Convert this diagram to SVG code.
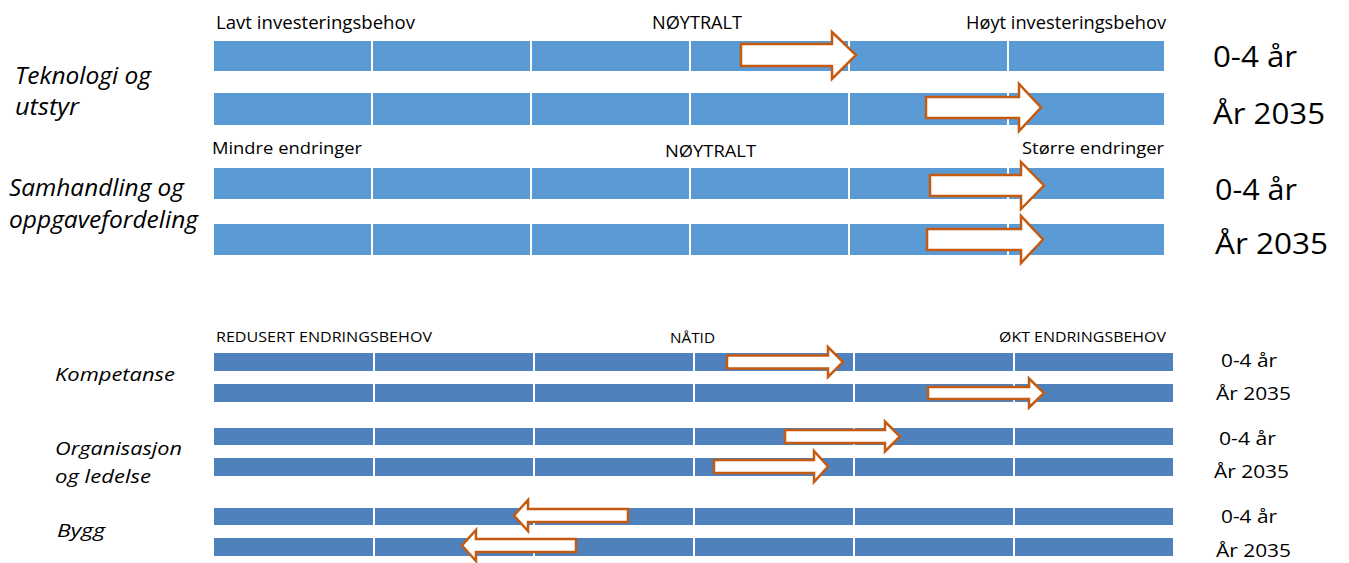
<svg xmlns="http://www.w3.org/2000/svg" width="1349" height="563" viewBox="0 0 1349 563">
<defs>
<style>
.bt{fill:#5B9BD5}
.bb{fill:#4F81BD}
.arr{fill:#FFFFFF;stroke:#C55A11;stroke-width:2.5;stroke-linejoin:miter}
text{font-family:"Open Sans","Liberation Sans",sans-serif;fill:#000}
.it{font-style:italic}
.h1{font-size:18px}
.h2{font-size:16px}
.h3{font-size:14px}
.big{font-size:29px}
.cat{font-size:23px}
.cat2{font-size:19px}
.sm{font-size:19px}
</style>
</defs>
<rect width="1349" height="563" fill="#FFFFFF"/>

<g id="section-teknologi">
  <text class="h1" x="216" y="29" textLength="199" lengthAdjust="spacingAndGlyphs">Lavt investeringsbehov</text>
  <text class="h1" x="652" y="29" textLength="90" lengthAdjust="spacingAndGlyphs">NØYTRALT</text>
  <text class="h1" x="966" y="29" textLength="200" lengthAdjust="spacingAndGlyphs">Høyt investeringsbehov</text>
  <text class="cat it" x="15" y="84" textLength="136" lengthAdjust="spacingAndGlyphs">Teknologi og</text>
  <text class="cat it" x="15" y="115" textLength="64" lengthAdjust="spacingAndGlyphs">utstyr</text>
  <g id="bar-tek-1" class="bt">
    <rect x="214" y="41" width="157" height="30"/><rect x="373" y="41" width="157" height="30"/><rect x="532" y="41" width="157" height="30"/><rect x="691" y="41" width="157" height="30"/><rect x="850" y="41" width="157" height="30"/><rect x="1009" y="41" width="155" height="30"/>
  </g>
  <g id="bar-tek-2" class="bt">
    <rect x="214" y="93" width="157" height="32"/><rect x="373" y="93" width="157" height="32"/><rect x="532" y="93" width="157" height="32"/><rect x="691" y="93" width="157" height="32"/><rect x="850" y="93" width="157" height="32"/><rect x="1009" y="93" width="155" height="32"/>
  </g>
  <text class="big" x="1213" y="67" textLength="84" lengthAdjust="spacingAndGlyphs">0-4 år</text>
  <text class="big" x="1213" y="124" textLength="112" lengthAdjust="spacingAndGlyphs">År 2035</text>
</g>

<g id="section-samhandling">
  <text class="h2" x="212" y="154" textLength="150" lengthAdjust="spacingAndGlyphs">Mindre endringer</text>
  <text class="h2" x="665" y="157" textLength="91" lengthAdjust="spacingAndGlyphs">NØYTRALT</text>
  <text class="h2" x="1022" y="154" textLength="142" lengthAdjust="spacingAndGlyphs">Større endringer</text>
  <text class="cat it" x="9" y="196" textLength="175" lengthAdjust="spacingAndGlyphs">Samhandling og</text>
  <text class="cat it" x="9" y="228" textLength="189" lengthAdjust="spacingAndGlyphs">oppgavefordeling</text>
  <g id="bar-sam-1" class="bt">
    <rect x="214" y="168" width="157" height="31"/><rect x="373" y="168" width="157" height="31"/><rect x="532" y="168" width="157" height="31"/><rect x="691" y="168" width="157" height="31"/><rect x="850" y="168" width="157" height="31"/><rect x="1009" y="168" width="155" height="31"/>
  </g>
  <g id="bar-sam-2" class="bt">
    <rect x="214" y="224" width="157" height="31"/><rect x="373" y="224" width="157" height="31"/><rect x="532" y="224" width="157" height="31"/><rect x="691" y="224" width="157" height="31"/><rect x="850" y="224" width="157" height="31"/><rect x="1009" y="224" width="155" height="31"/>
  </g>
  <text class="big" x="1215" y="200" textLength="82" lengthAdjust="spacingAndGlyphs">0-4 år</text>
  <text class="big" x="1215" y="254" textLength="113" lengthAdjust="spacingAndGlyphs">År 2035</text>
</g>

<g id="section-endring">
  <text class="h3" x="216" y="342" textLength="216" lengthAdjust="spacingAndGlyphs">REDUSERT ENDRINGSBEHOV</text>
  <text class="h3" x="670" y="343" textLength="45" lengthAdjust="spacingAndGlyphs">NÅTID</text>
  <text class="h3" x="999" y="342" textLength="167" lengthAdjust="spacingAndGlyphs">ØKT ENDRINGSBEHOV</text>
</g>

<g id="kompetanse">
  <text class="cat2 it" x="55" y="381" textLength="120" lengthAdjust="spacingAndGlyphs">Kompetanse</text>
  <g class="bb">
    <rect x="214" y="353" width="159" height="18"/><rect x="375" y="353" width="158" height="18"/><rect x="535" y="353" width="158" height="18"/><rect x="695" y="353" width="158" height="18"/><rect x="855" y="353" width="158" height="18"/><rect x="1015" y="353" width="158" height="18"/>
    <rect x="214" y="384" width="159" height="18"/><rect x="375" y="384" width="158" height="18"/><rect x="535" y="384" width="158" height="18"/><rect x="695" y="384" width="158" height="18"/><rect x="855" y="384" width="158" height="18"/><rect x="1015" y="384" width="158" height="18"/>
  </g>
  <text class="sm" x="1221" y="367" textLength="56" lengthAdjust="spacingAndGlyphs">0-4 år</text>
  <text class="sm" x="1216" y="400" textLength="75" lengthAdjust="spacingAndGlyphs">År 2035</text>
</g>

<g id="organisasjon">
  <text class="cat2 it" x="55" y="455" textLength="127" lengthAdjust="spacingAndGlyphs">Organisasjon</text>
  <text class="cat2 it" x="55" y="483" textLength="96" lengthAdjust="spacingAndGlyphs">og ledelse</text>
  <g class="bb">
    <rect x="214" y="428" width="159" height="17"/><rect x="375" y="428" width="158" height="17"/><rect x="535" y="428" width="158" height="17"/><rect x="695" y="428" width="158" height="17"/><rect x="855" y="428" width="158" height="17"/><rect x="1015" y="428" width="158" height="17"/>
    <rect x="214" y="458" width="159" height="18"/><rect x="375" y="458" width="158" height="18"/><rect x="535" y="458" width="158" height="18"/><rect x="695" y="458" width="158" height="18"/><rect x="855" y="458" width="158" height="18"/><rect x="1015" y="458" width="158" height="18"/>
  </g>
  <text class="sm" x="1219" y="445" textLength="57" lengthAdjust="spacingAndGlyphs">0-4 år</text>
  <text class="sm" x="1214" y="478" textLength="75" lengthAdjust="spacingAndGlyphs">År 2035</text>
</g>

<g id="bygg">
  <text class="cat2 it" x="57" y="537" textLength="48" lengthAdjust="spacingAndGlyphs">Bygg</text>
  <g class="bb">
    <rect x="214" y="508" width="159" height="17"/><rect x="375" y="508" width="158" height="17"/><rect x="535" y="508" width="158" height="17"/><rect x="695" y="508" width="158" height="17"/><rect x="855" y="508" width="158" height="17"/><rect x="1015" y="508" width="158" height="17"/>
    <rect x="214" y="538" width="159" height="18"/><rect x="375" y="538" width="158" height="18"/><rect x="535" y="538" width="158" height="18"/><rect x="695" y="538" width="158" height="18"/><rect x="855" y="538" width="158" height="18"/><rect x="1015" y="538" width="158" height="18"/>
  </g>
  <text class="sm" x="1221" y="523" textLength="56" lengthAdjust="spacingAndGlyphs">0-4 år</text>
  <text class="sm" x="1216" y="557" textLength="75" lengthAdjust="spacingAndGlyphs">År 2035</text>
</g>

<g id="arrows">
  <path class="arr" d="M741,44 L832,44 L832,32 L856,55 L832,79 L832,66 L741,66 Z"/>
  <path class="arr" d="M926,97 L1019,97 L1019,84 L1041,107.5 L1019,131 L1019,118 L926,118 Z"/>
  <path class="arr" d="M930,175 L1021,175 L1021,162 L1044,185.5 L1021,209 L1021,196 L930,196 Z"/>
  <path class="arr" d="M927,229 L1021,229 L1021,216 L1043,239.5 L1021,263 L1021,250 L927,250 Z"/>
  <path class="arr" d="M727,355.5 L828,355.5 L828,347 L843,362 L828,377 L828,368.5 L727,368.5 Z"/>
  <path class="arr" d="M928,387 L1029,387 L1029,378.5 L1044,393 L1029,407.5 L1029,399 L928,399 Z"/>
  <path class="arr" d="M785,430 L885,430 L885,421.5 L900,436.5 L885,451.5 L885,443 L785,443 Z"/>
  <path class="arr" d="M714,460 L814,460 L814,451 L828,466.5 L814,482 L814,473 L714,473 Z"/>
  <path class="arr" d="M628,509 L528,509 L528,500 L514,515.5 L528,531 L528,522 L628,522 Z"/>
  <path class="arr" d="M576,539 L476,539 L476,530 L462,545.5 L476,561 L476,552 L576,552 Z"/>
</g>
</svg>
